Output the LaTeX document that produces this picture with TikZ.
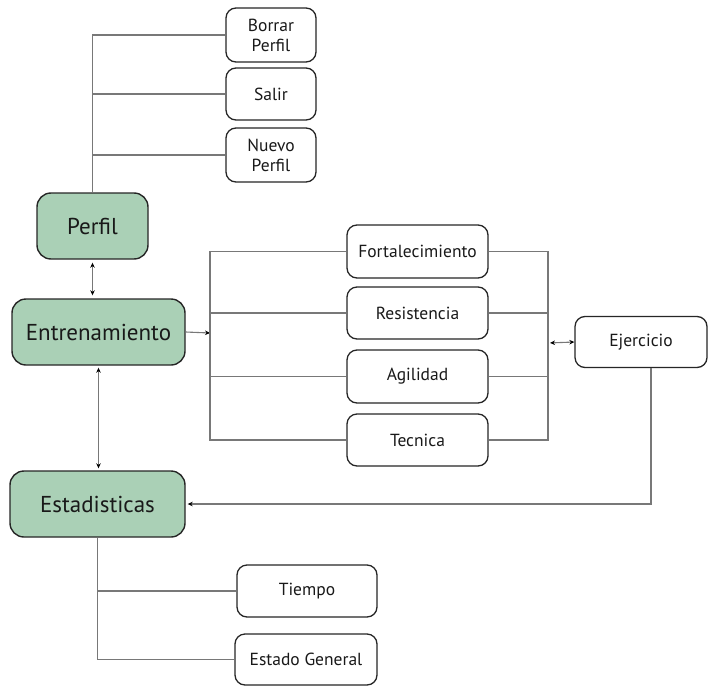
\documentclass[tikz,border=0pt]{standalone}
\usepackage{fontspec}
\setmainfont{PT Sans}
\usepackage{tikz}
\usetikzlibrary{positioning,calc,arrows.meta}
\definecolor{mainfill}{RGB}{170,208,182}
\definecolor{linkgray}{RGB}{120,120,120}

\begin{document}
\begin{tikzpicture}[
        x=1pt, y=-1pt,
        mainbox/.style={rectangle, draw=black!85, line width=1.4pt, fill=mainfill, rounded corners=14pt, text=black!90, font=\fontsize{23}{26}\selectfont, align=center, inner sep=0pt},
        subbox/.style={rectangle, draw=black!85, line width=1.3pt, fill=white, rounded corners=10pt, text=black!90, font=\fontsize{17.5}{20}\selectfont, align=center, inner sep=0pt},
        link/.style={draw=linkgray, line width=1.1pt},
        arrow/.style={link, -{Stealth[length=5pt,width=4.5pt,color=black]}},
        dblarrow/.style={link, {Stealth[length=5pt,width=4.5pt,color=black]}-{Stealth[length=5pt,width=4.5pt,color=black]}}
        ]
        \useasboundingbox (0,0) rectangle (708,687);

        % Main modules
        \node[mainbox, minimum width=111, minimum height=66] (perfil) at (92.5,226) {Perfil};
        \node[mainbox, minimum width=173, minimum height=66] (entren) at (98.5,332) {Entrenamiento};
        \node[mainbox, minimum width=175, minimum height=66] (estad) at (97.5,504) {Estadisticas};

        % Profile options
        \node[subbox, minimum width=90, minimum height=54] (borrar) at (271,35) {Borrar\\Perfil};
        \node[subbox, minimum width=90, minimum height=52] (salir) at (271,94) {Salir};
        \node[subbox, minimum width=90, minimum height=54] (nuevo) at (271,155) {Nuevo\\Perfil};

        % Training types
        \node[subbox, minimum width=141, minimum height=53] (fort) at (417.5,251.5) {Fortalecimiento};
        \node[subbox, minimum width=141, minimum height=52] (resist) at (417.5,313) {Resistencia};
        \node[subbox, minimum width=141, minimum height=53] (agil) at (417.5,376.5) {Agilidad};
        \node[subbox, minimum width=141, minimum height=52] (tecn) at (417.5,440) {Tecnica};
        \node[subbox, minimum width=132, minimum height=51] (ejerc) at (641,342) {Ejercicio};

        % Statistics
        \node[subbox, minimum width=140, minimum height=52] (tiempo) at (307,591) {Tiempo};
        \node[subbox, minimum width=142, minimum height=51] (estgen) at (306,659.5) {Estado General};

        \coordinate (lbr) at (210,333);
        \coordinate (rbr) at (548,343);

        % Relationships
        \draw[link] (perfil.north) |- (borrar.west);
        \draw[link] (perfil.north) |- (salir.west);
        \draw[link] (perfil.north) |- (nuevo.west);
        \draw[dblarrow, shorten <=3pt, shorten >=3pt] (perfil.south) -- (perfil.south |- entren.north);
        \draw[dblarrow, shorten <=2pt, shorten >=2pt] (entren.south) -- (entren.south |- estad.north);
        \draw[arrow] (entren.east) -- (lbr);
        \draw[link] (fort.west) -| (lbr) |- (tecn.west);
        \draw[link] (resist.west) -- (resist.west -| lbr);
        \draw[link] (agil.west) -- (agil.west -| lbr);
        \draw[link] (fort.east) -| (rbr) |- (tecn.east);
        \draw[link] (resist.east) -- (resist.east -| rbr);
        \draw[link] (agil.east) -- (agil.east -| rbr);
        \draw[dblarrow, shorten <=2pt] (rbr) -- (ejerc.west);
        \draw[arrow, shorten >=2pt] ([xshift=10pt]ejerc.south) |- (estad.east);
        \draw[link] (estad.south) |- (tiempo.west);
        \draw[link] (estad.south) |- (estgen.west);

    \end{tikzpicture}
\end{document}
